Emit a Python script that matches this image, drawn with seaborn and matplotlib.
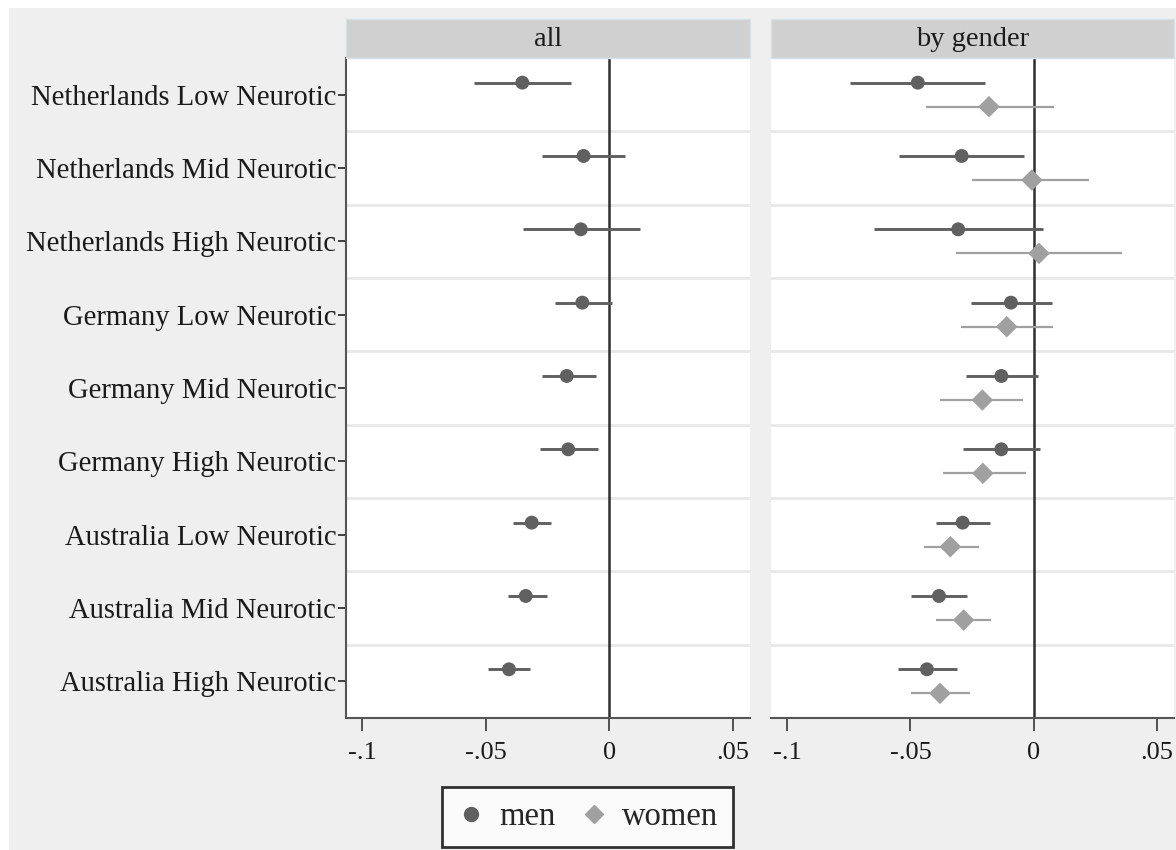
import matplotlib
matplotlib.use("Agg")
import matplotlib.pyplot as plt
from matplotlib.lines import Line2D
from matplotlib.patches import Rectangle
import numpy as np
import pandas as pd
import seaborn as sns

# rows, top to bottom
labels = ["Netherlands Low Neurotic", "Netherlands Mid Neurotic", "Netherlands High Neurotic",
          "Germany Low Neurotic", "Germany Mid Neurotic", "Germany High Neurotic",
          "Australia Low Neurotic", "Australia Mid Neurotic", "Australia High Neurotic"]

# panel "all"
all_est = [-0.0352, -0.0104, -0.0115, -0.0109, -0.0172, -0.0166, -0.0314, -0.0338, -0.0406]
all_lo = [-0.0546, -0.0274, -0.0349, -0.0220, -0.0274, -0.0280, -0.0388, -0.0412, -0.0492]
all_hi = [-0.0154, 0.0065, 0.0126, 0.0011, -0.0054, -0.0045, -0.0234, -0.0253, -0.0322]

# panel "by gender"
men_est = [-0.0470, -0.0292, -0.0306, -0.0092, -0.0131, -0.0131, -0.0288, -0.0384, -0.0433]
men_lo = [-0.0747, -0.0546, -0.0649, -0.0255, -0.0274, -0.0285, -0.0397, -0.0496, -0.0550]
men_hi = [-0.0197, -0.0039, 0.0039, 0.0073, 0.0018, 0.0028, -0.0176, -0.0269, -0.0311]
women_est = [-0.0181, -0.0007, 0.0022, -0.0109, -0.0208, -0.0206, -0.0338, -0.0284, -0.0380]
women_lo = [-0.0437, -0.0250, -0.0314, -0.0295, -0.0378, -0.0369, -0.0446, -0.0397, -0.0496]
women_hi = [0.0084, 0.0224, 0.0360, 0.0080, -0.0041, -0.0031, -0.0220, -0.0172, -0.0257]

xticks = [-0.1, -0.05, 0, 0.05]
xticklabels = ["-.1", "-.05", "0", ".05"]
panels = ["all", "by gender"]

MEN_C = "#606060"
WOMEN_C = "#a0a0a0"
BG = "#efefef"
FONT = ["Liberation Serif", "DejaVu Serif"]

sns.set_theme(style="white")
plt.rcParams["font.family"] = FONT

rows = []
for i, lab in enumerate(labels):
    rows.append(dict(panel="all", group="men", row=i, est=all_est[i], lo=all_lo[i], hi=all_hi[i]))
    rows.append(dict(panel="by gender", group="men", row=i, est=men_est[i], lo=men_lo[i], hi=men_hi[i]))
    rows.append(dict(panel="by gender", group="women", row=i, est=women_est[i], lo=women_lo[i], hi=women_hi[i]))
df = pd.DataFrame(rows)
offset = {"men": -0.164, "women": 0.164}
df["y"] = df["row"] + df["group"].map(offset)

fig = plt.figure(figsize=(11.76, 8.5), dpi=100)
fig.patch.set_facecolor("white")
fig.patches.append(Rectangle((9 / 1176, 0), 1, 1 - 8 / 850, transform=fig.transFigure,
                             facecolor=BG, edgecolor="none", zorder=-10))

ax_pos = [[346 / 1176, 1 - 718 / 850, 404 / 1176, 660 / 850],
          [771 / 1176, 1 - 718 / 850, 403 / 1176, 660 / 850]]

style = {"men": dict(color=MEN_C, marker="o", s=100, lw=2.1),
         "women": dict(color=WOMEN_C, marker="D", s=120, lw=1.6)}

for k, name in enumerate(panels):
    ax = fig.add_axes(ax_pos[k])
    ax.set_facecolor("white")
    sub = df[df["panel"] == name]

    # row separators
    for b in np.arange(0.5, len(labels) - 0.5, 1):
        ax.axhline(b, color="#e8e8e8", lw=2, zorder=0)
    ax.axvline(0, color="#2e2e2e", lw=1.8, zorder=1)

    for g, d in sub.groupby("group"):
        st = style[g]
        ax.hlines(d["y"], d["lo"], d["hi"], color=st["color"], lw=st["lw"], zorder=2)
        sns.scatterplot(data=d, x="est", y="y", ax=ax, color=st["color"], marker=st["marker"],
                        s=st["s"], edgecolor="none", zorder=3, legend=False)

    ax.set_xlim(-0.1066, 0.057)
    ax.set_ylim(len(labels) - 0.5, -0.5)
    ax.set_xticks(xticks)
    ax.set_xticklabels(xticklabels, fontsize=19)
    ax.set_xlabel("")
    ax.set_ylabel("")
    ax.tick_params(axis="x", direction="out", length=9, width=1.3, color="#444444", pad=8,
                   bottom=True, labelcolor="#1a1a1a")
    for sp in ["top", "right"]:
        ax.spines[sp].set_visible(False)
    ax.spines["bottom"].set_color("#555555")
    ax.spines["bottom"].set_linewidth(1.5)
    if k == 0:
        ax.set_yticks(range(len(labels)))
        ax.set_yticklabels(labels, fontsize=20.6)
        ax.tick_params(axis="y", direction="out", length=6, width=1.3, color="#333333", pad=1,
                       left=True, labelcolor="#1a1a1a")
        ax.spines["left"].set_color("#555555")
        ax.spines["left"].set_linewidth(1.5)
    else:
        ax.set_yticks([])
        ax.spines["left"].set_visible(False)

    # strip header
    x0, y0, w, h = ax_pos[k]
    fig.patches.append(Rectangle((x0, 1 - 58 / 850), w, 39 / 850, transform=fig.transFigure,
                                 facecolor="#d0d0d0", edgecolor="#d6e2ea", lw=1, zorder=1))
    fig.text(x0 + w / 2, 1 - 39 / 850, name, ha="center", va="center", fontsize=20.5, color="#1a1a1a")

handles = [Line2D([], [], ls="none", marker="o", color=MEN_C, markersize=10),
           Line2D([], [], ls="none", marker="D", color=WOMEN_C, markersize=9)]
leg = fig.legend(handles, ["men", "women"], loc="center", bbox_to_anchor=(587.5 / 1176, 1 - 817 / 850),
                 ncol=2, fontsize=23.5, frameon=True, fancybox=False, handletextpad=0.4,
                 columnspacing=0.75, borderpad=0.45, handlelength=0.9, borderaxespad=0)
leg.get_frame().set_edgecolor("black")
leg.get_frame().set_linewidth(2)
leg.get_frame().set_facecolor("white")

fig.savefig("out.png", dpi=100, facecolor=fig.get_facecolor())
